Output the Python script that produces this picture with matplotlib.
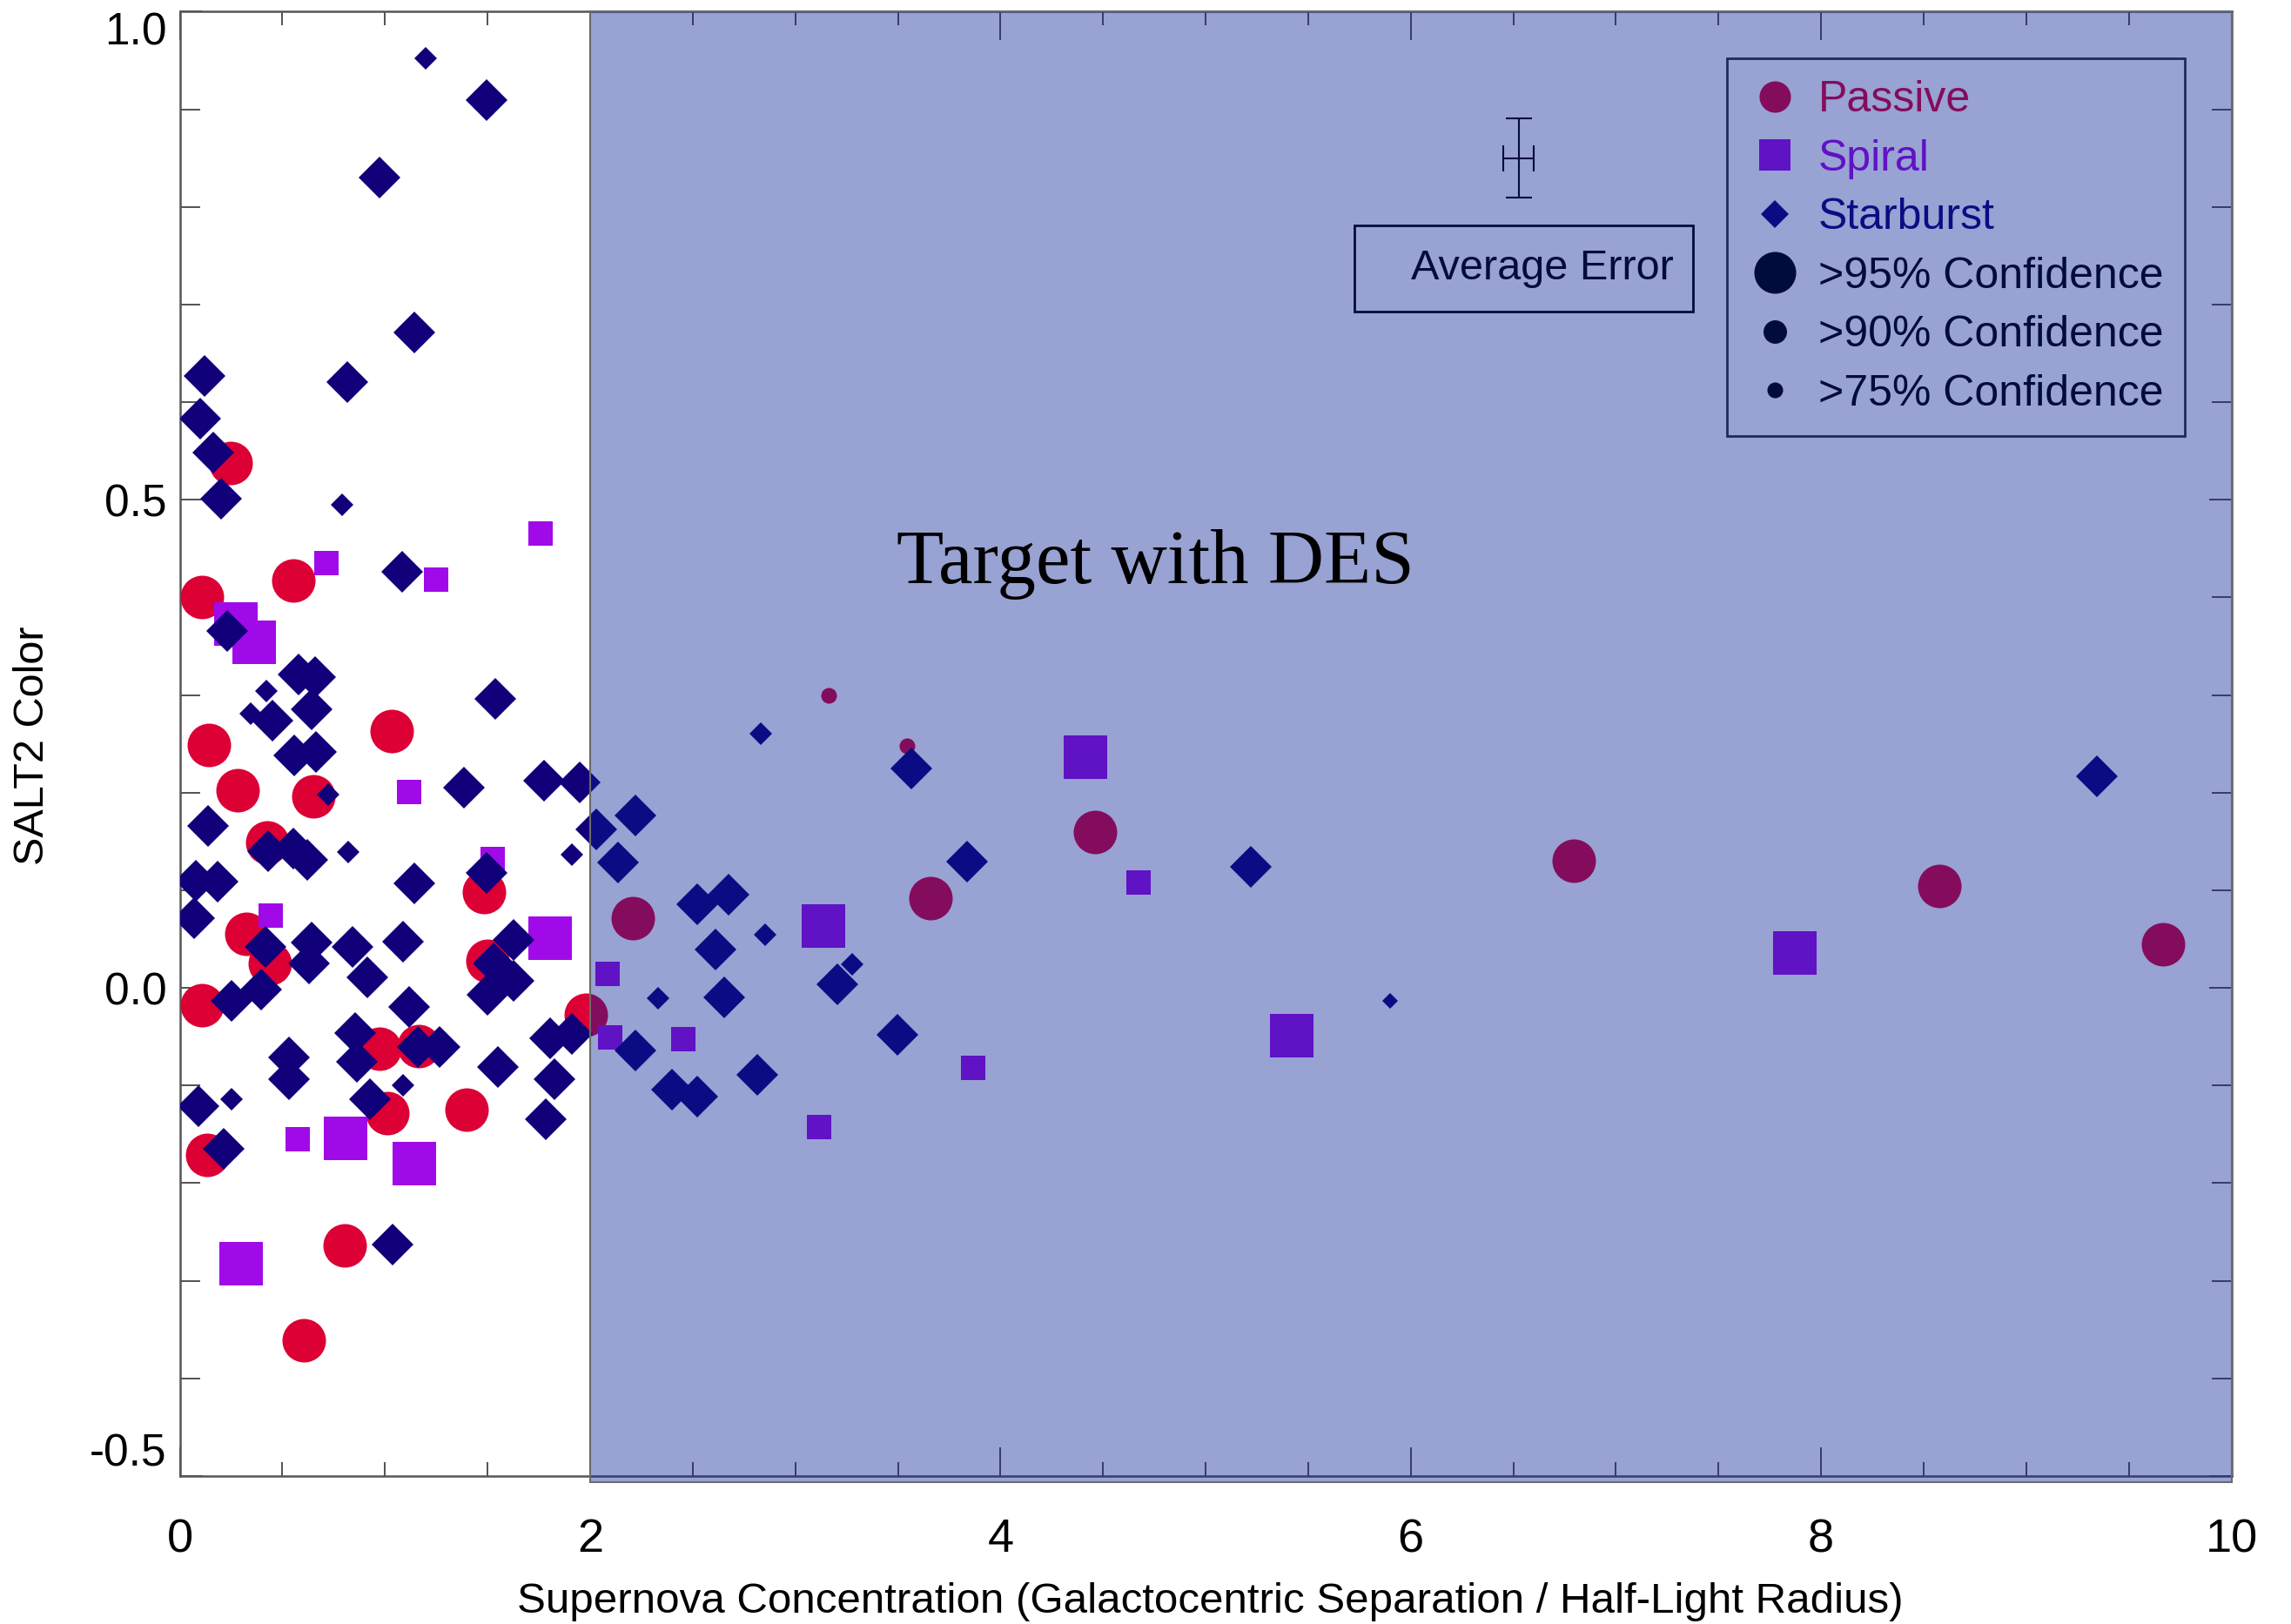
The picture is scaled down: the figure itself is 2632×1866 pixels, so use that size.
import matplotlib
matplotlib.use('Agg')
import matplotlib.pyplot as plt
from matplotlib.lines import Line2D
from matplotlib.patches import Rectangle

plt.rcParams['font.family'] = ['Liberation Sans', 'DejaVu Sans']

# Passive hosts (x, SALT2 colour, confidence class: L >95%, M >90%, S >75%)
passive_x = [0.246, 0.552, 0.106, 0.140, 1.031, 0.280, 0.649, 0.424, 1.484, 0.322,
             0.440, 1.498, 0.106, 1.980, 0.975, 1.166, 1.010, 1.396, 0.132, 0.802,
             0.602, 2.206, 3.161, 3.543, 3.657, 4.459, 6.793, 8.575, 9.665]
passive_y = [0.538, 0.417, 0.400, 0.249, 0.263, 0.202, 0.196, 0.149, 0.098, 0.055,
             0.025, 0.028, -0.018, -0.028, -0.062, -0.060, -0.128, -0.125, -0.171, -0.264,
             -0.361, 0.071, 0.300, 0.248, 0.092, 0.160, 0.130, 0.104, 0.045]
passive_c = ['L', 'L', 'L', 'L', 'L', 'L', 'L', 'L', 'L', 'L',
             'L', 'L', 'L', 'L', 'L', 'L', 'L', 'L', 'L', 'L',
             'L', 'L', 'S', 'S', 'L', 'L', 'L', 'L', 'L']

# Spiral hosts
spiral_x = [1.757, 0.713, 1.247, 0.272, 0.361, 1.116, 1.526, 0.441, 1.803, 0.573,
            0.806, 1.144, 0.297, 2.083, 2.096, 2.452, 3.135, 3.114, 3.865, 4.413,
            4.671, 5.418, 7.870]
spiral_y = [0.465, 0.435, 0.418, 0.373, 0.354, 0.201, 0.132, 0.074, 0.051, -0.155,
            -0.154, -0.180, -0.283, 0.014, -0.051, -0.053, 0.063, -0.143, -0.082, 0.236,
            0.108, -0.049, 0.036]
spiral_c = ['M', 'M', 'M', 'L', 'L', 'M', 'M', 'M', 'L', 'M',
            'L', 'L', 'L', 'M', 'M', 'M', 'L', 'M', 'M', 'L',
            'M', 'L', 'L']

# Starburst hosts
starburst_x = [1.196, 1.496, 0.972, 1.141, 0.119, 0.815, 0.098, 0.161, 0.199, 0.789,
               1.082, 0.229, 0.577, 0.658, 0.420, 0.344, 0.450, 0.641, 0.556, 0.662,
               1.536, 0.721, 1.383, 1.773, 1.951, 0.138, 2.028, 0.430, 0.552, 0.621,
               0.822, 1.144, 1.497, 1.909, 0.076, 0.182, 0.068, 0.416, 0.641, 0.628,
               0.840, 0.912, 1.086, 1.625, 1.527, 1.625, 1.498, 1.116, 0.250, 0.395,
               0.853, 0.861, 0.533, 0.533, 1.158, 1.264, 1.086, 0.925, 1.549, 1.803,
               1.909, 1.824, 1.782, 0.089, 0.250, 0.212, 1.035, 2.134, 2.219, 2.830,
               3.564, 3.835, 2.520, 2.673, 2.851, 2.609, 3.275, 3.203, 2.329, 2.652,
               2.219, 3.496, 2.813, 2.397, 2.520, 5.219, 5.897, 9.343]
starburst_y = [0.952, 0.909, 0.830, 0.671, 0.627, 0.621, 0.583, 0.548, 0.501, 0.495,
               0.426, 0.366, 0.321, 0.318, 0.304, 0.281, 0.274, 0.285, 0.238, 0.242,
               0.296, 0.198, 0.205, 0.212, 0.210, 0.166, 0.162, 0.140, 0.143, 0.131,
               0.139, 0.107, 0.118, 0.136, 0.110, 0.109, 0.071, 0.042, 0.046, 0.025,
               0.042, 0.011, 0.047, 0.049, 0.025, 0.007, -0.007, -0.020, -0.013, -0.002,
               -0.046, -0.076, -0.071, -0.094, -0.061, -0.061, -0.100, -0.114, -0.081, -0.052,
               -0.047, -0.094, -0.135, -0.121, -0.114, -0.165, -0.263, 0.128, 0.177, 0.260,
               0.225, 0.129, 0.086, 0.095, 0.054, 0.039, 0.024, 0.004, -0.011, -0.010,
               -0.064, -0.048, -0.089, -0.104, -0.111, 0.124, -0.013, 0.217]
starburst_c = ['M', 'L', 'L', 'L', 'L', 'L', 'L', 'L', 'L', 'M',
               'L', 'L', 'L', 'L', 'M', 'M', 'L', 'L', 'L', 'L',
               'L', 'M', 'L', 'L', 'L', 'L', 'L', 'L', 'L', 'L',
               'M', 'L', 'L', 'M', 'L', 'L', 'L', 'L', 'L', 'L',
               'L', 'L', 'L', 'L', 'L', 'L', 'L', 'L', 'L', 'L',
               'L', 'L', 'L', 'L', 'L', 'L', 'M', 'L', 'L', 'L',
               'L', 'L', 'L', 'L', 'M', 'L', 'L', 'L', 'L', 'M',
               'L', 'L', 'L', 'L', 'M', 'L', 'M', 'L', 'M', 'L',
               'L', 'L', 'L', 'L', 'L', 'L', 'S', 'L']

# average error bar
err_x, err_y = 6.525, 0.850
err_dx, err_dy = 0.076, 0.0406

legend_labels = ['Passive', 'Spiral', 'Starburst',
                 '>95% Confidence', '>90% Confidence', '>75% Confidence']

col_passive = '#dc0035'
col_spiral = '#a00ae8'
col_starburst = '#10007a'

# marker sizes (points) per confidence class
sizes = {
    'o': {'L': 36, 'M': 19.4, 'S': 13},
    's': {'L': 36, 'M': 20.5, 'S': 13},
    'D': {'L': 24.4, 'M': 13.7, 'S': 9},
}

fig = plt.figure(figsize=(26.32, 18.66), dpi=100)
ax = fig.add_axes([0.0785, 0.0912, 0.8955, 0.9016])


def draw_group(xs, ys, cls, marker, color):
    for c in ['L', 'M', 'S']:
        px = [x for x, k in zip(xs, cls) if k == c]
        py = [y for y, k in zip(ys, cls) if k == c]
        if px:
            ax.plot(px, py, ls='none', marker=marker, ms=sizes[marker][c],
                    mew=0, color=color, zorder=3)


draw_group(passive_x, passive_y, passive_c, 'o', col_passive)
draw_group(spiral_x, spiral_y, spiral_c, 's', col_spiral)
draw_group(starburst_x, starburst_y, starburst_c, 'D', col_starburst)

# average error marker and box
ax.errorbar(err_x, err_y, xerr=err_dx, yerr=err_dy, fmt='none', ecolor='black',
            elinewidth=1.5, capsize=10.8, capthick=1.5, zorder=3.6)
ax.add_patch(Rectangle((5.724, 0.693), 1.65, 0.088, fill=False, ec='black',
                       lw=2, zorder=3.6))
ax.text(6.0, 0.737, 'Average Error', va='center', ha='left', size=35, zorder=3.6)

# legend
handles = [
    Line2D([], [], ls='none', marker='o', ms=26, mew=0, color=col_passive),
    Line2D([], [], ls='none', marker='s', ms=26.6, mew=0, color=col_spiral),
    Line2D([], [], ls='none', marker='D', ms=16.8, mew=0, color=col_starburst),
    Line2D([], [], ls='none', marker='o', ms=34.6, mew=0, color='black'),
    Line2D([], [], ls='none', marker='o', ms=19.4, mew=0, color='black'),
    Line2D([], [], ls='none', marker='o', ms=13, mew=0, color='black'),
]
leg = ax.legend(handles, legend_labels, loc='upper left', bbox_to_anchor=(0.754, 0.968),
                borderaxespad=0, frameon=True, fancybox=False, edgecolor='black',
                facecolor='none', prop={'size': 36}, handlelength=1.2,
                handletextpad=0.4, labelspacing=0.43, borderpad=0.5)
leg.get_frame().set_linewidth(2)
leg.set_zorder(3.6)
for t, c in zip(leg.get_texts(), [col_passive, col_spiral, col_starburst,
                                  'black', 'black', 'black']):
    t.set_color(c)

# DES target region, drawn over the points
ax.axvspan(2, 10, ymin=-0.004, ymax=1.0, facecolor=(6 / 255, 30 / 255, 148 / 255, 0.41),
           edgecolor='#6a6a6a', lw=1.5, zorder=4, clip_on=False)
ax.text(4.756, 0.434, 'Target with DES', family=['Liberation Serif', 'DejaVu Serif'],
        size=64, ha='center', va='center', zorder=6)

ax.set_xlim(0, 10)
ax.set_ylim(-0.5, 1.0)
ax.set_xticks([0, 2, 4, 6, 8, 10])
ax.set_xticks([i * 0.5 for i in range(21)], minor=True)
ax.set_yticks([-0.5, 0.0, 0.5, 1.0])
ax.set_yticklabels(['-0.5', '0.0', '0.5', '1.0'])
ax.set_yticks([-0.5 + i * 0.1 for i in range(16)], minor=True)

ax.tick_params(axis='x', which='major', direction='in', top=True, length=23.8,
               width=1.3, color='#444444', labelsize=39, pad=35)
ax.tick_params(axis='x', which='minor', direction='in', top=True, length=11.5,
               width=1.3, color='#444444')
ax.tick_params(axis='y', which='major', direction='in', right=True, length=19,
               width=1.3, color='#444444', labelsize=37, pad=11)
ax.tick_params(axis='y', which='minor', direction='in', right=True, length=16.5,
               width=1.3, color='#444444')
ylabs = ax.get_yticklabels()
ylabs[0].set_verticalalignment('bottom')
ylabs[-1].set_verticalalignment('top')
for sp in ax.spines.values():
    sp.set_color('#555555')
    sp.set_linewidth(1.8)

ax.set_xlabel('Supernova Concentration (Galactocentric Separation / Half-Light Radius)',
              size=35.5, va='center')
ax.xaxis.set_label_coords(0.502, -0.086)
ax.set_ylabel('SALT2 Color', size=35, va='center')
ax.yaxis.set_label_coords(-0.0719, 0.499)

fig.savefig('out.png', dpi=100)
